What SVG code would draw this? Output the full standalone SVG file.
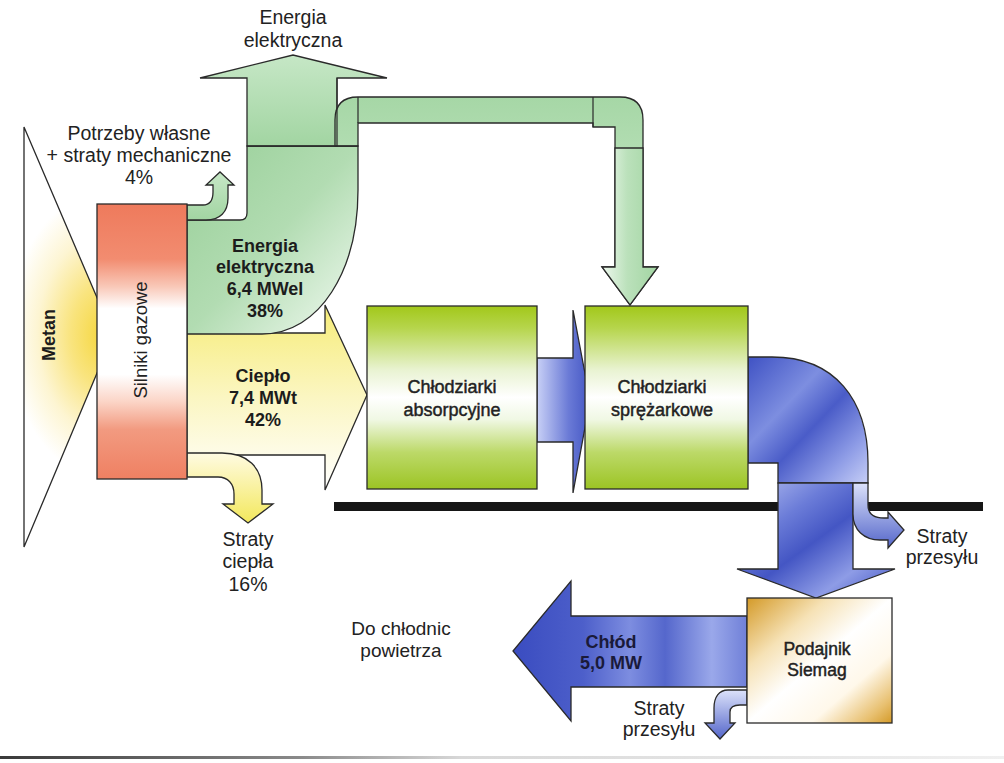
<svg xmlns="http://www.w3.org/2000/svg" width="1004" height="763" viewBox="0 0 1004 763">
<style>
.s{stroke:#2a2a2a;stroke-width:1.3;stroke-linejoin:miter}
.seam{stroke:#2a2a2a;stroke-width:1.2;fill:none}
.t{font-family:"Liberation Sans",Arial,sans-serif;font-size:19.5px;fill:#222;text-anchor:middle}
.b{font-weight:bold;font-size:18px;fill:#1c1c1c}
.m{stroke:#222;stroke-width:0.45;font-size:18px}
.n{fill:#1a1a3a}
</style>
<defs>
<radialGradient id="gMetan" gradientUnits="userSpaceOnUse" cx="104" cy="335" r="95" fx="104" fy="335" gradientTransform="translate(104,335) scale(1,1.5) translate(-104,-335)">
<stop offset="0" stop-color="#f5d63c"/><stop offset="0.35" stop-color="#f9e47e"/><stop offset="0.7" stop-color="#fdf5d2"/><stop offset="1" stop-color="#ffffff"/>
</radialGradient>
<linearGradient id="gSil" x1="0" y1="0" x2="0" y2="1">
<stop offset="0" stop-color="#ee7a5c"/><stop offset="0.2" stop-color="#f28c70"/><stop offset="0.3" stop-color="#f9c8b8"/><stop offset="0.38" stop-color="#ffffff"/><stop offset="0.62" stop-color="#ffffff"/><stop offset="0.72" stop-color="#fbd4c6"/><stop offset="0.82" stop-color="#f29a80"/><stop offset="1" stop-color="#ef8062"/>
</linearGradient>
<linearGradient id="gYel" x1="0" y1="0" x2="0" y2="1">
<stop offset="0" stop-color="#f6ec78"/><stop offset="0.5" stop-color="#fbf6c2"/><stop offset="1" stop-color="#ffffff"/>
</linearGradient>
<linearGradient id="gYelS" x1="0" y1="0" x2="0" y2="1">
<stop offset="0" stop-color="#fffbe2"/><stop offset="1" stop-color="#f3e85c"/>
</linearGradient>
<linearGradient id="gGreen" x1="0" y1="0" x2="1" y2="1">
<stop offset="0" stop-color="#98cf98"/><stop offset="0.5" stop-color="#b2dcb2"/><stop offset="1" stop-color="#f2faf2"/>
</linearGradient>
<linearGradient id="gGreenUp" x1="0" y1="0" x2="0" y2="1">
<stop offset="0" stop-color="#c6e7c6"/><stop offset="1" stop-color="#a2d5a2"/>
</linearGradient>
<linearGradient id="gPipeH" x1="0" y1="0" x2="0" y2="1">
<stop offset="0" stop-color="#a6d7a6"/><stop offset="0.6" stop-color="#c2e5c2"/><stop offset="1" stop-color="#eef8ee"/>
</linearGradient>
<linearGradient id="gPipeV" x1="0" y1="0" x2="1" y2="0">
<stop offset="0" stop-color="#eef8ee"/><stop offset="0.45" stop-color="#bbe1bb"/><stop offset="1" stop-color="#a2d5a2"/>
</linearGradient>
<linearGradient id="gBox" x1="0" y1="0" x2="0" y2="1">
<stop offset="0" stop-color="#a2c81a"/><stop offset="0.12" stop-color="#b6d54c"/><stop offset="0.35" stop-color="#e9f3d2"/><stop offset="0.5" stop-color="#ffffff"/><stop offset="0.62" stop-color="#f0f8e4"/><stop offset="0.8" stop-color="#bcd968"/><stop offset="1" stop-color="#9cc424"/>
</linearGradient>
<linearGradient id="gBlueA" x1="0" y1="0" x2="1" y2="0">
<stop offset="0" stop-color="#c8d0f6"/><stop offset="0.6" stop-color="#6a7ad6"/><stop offset="1" stop-color="#4456c4"/>
</linearGradient>
<linearGradient id="gBlueE" x1="0" y1="0" x2="1" y2="1">
<stop offset="0" stop-color="#3f52c4"/><stop offset="0.35" stop-color="#7d8ee0"/><stop offset="0.55" stop-color="#4a5cc8"/><stop offset="0.8" stop-color="#8e9ce6"/><stop offset="1" stop-color="#c6cef6"/>
</linearGradient>
<linearGradient id="gBlueD" x1="0" y1="0" x2="1" y2="1">
<stop offset="0" stop-color="#b8c2f2"/><stop offset="0.3" stop-color="#6b7cd8"/><stop offset="0.5" stop-color="#4456c4"/><stop offset="0.75" stop-color="#8e9ce6"/><stop offset="1" stop-color="#3e50c2"/>
</linearGradient>
<linearGradient id="gChlod" x1="0" y1="0" x2="1" y2="0">
<stop offset="0" stop-color="#3a4cc0"/><stop offset="0.3" stop-color="#4d5fca"/><stop offset="0.5" stop-color="#7d8de0"/><stop offset="0.65" stop-color="#5567cc"/><stop offset="0.85" stop-color="#9aa8ea"/><stop offset="1" stop-color="#7080d8"/>
</linearGradient>
<linearGradient id="gBlueS" x1="0" y1="0" x2="0" y2="1">
<stop offset="0" stop-color="#dce2fa"/><stop offset="1" stop-color="#5466ca"/>
</linearGradient>
<linearGradient id="gPod" x1="0" y1="0" x2="1" y2="1">
<stop offset="0" stop-color="#d49a28"/><stop offset="0.28" stop-color="#f6e2b6"/><stop offset="0.5" stop-color="#ffffff"/><stop offset="0.72" stop-color="#fff8ea"/><stop offset="0.9" stop-color="#e8c070"/><stop offset="1" stop-color="#d49a28"/>
</linearGradient>
<linearGradient id="gGray" x1="0" y1="0" x2="1" y2="0">
<stop offset="0" stop-color="#3a3a3a"/><stop offset="0.3" stop-color="#8a8a8a"/><stop offset="0.46" stop-color="#d8d8d8"/><stop offset="1" stop-color="#f0f0f0"/>
</linearGradient>
</defs>

<rect x="0" y="756" width="1004" height="3" fill="url(#gGray)"/>
<rect x="334" y="502" width="649" height="9" fill="#161616"/>

<g id="metan">
<polygon class="s" points="24,127 113,335 24,547" fill="url(#gMetan)"/>
<text class="t b" transform="translate(55,335) rotate(-90)">Metan</text>
</g>

<g id="connectors">
<polygon class="s" fill="url(#gYel)" points="187,333 325,333 325,305 367,395 325,490 325,455 187,455"/>
<path class="s" fill="url(#gYelS)" d="M187,453 L222,453 C248,453 262,468 262,490 L262,504 L273,504 L248,523 L223,504 L234,504 L234,494 C234,484 228,477 218,477 L187,477 Z"/>
<path class="s" fill="url(#gGreen)" d="M187,220 L240,220 Q247,220 247,213 L247,146 L358,146 L358,190 C358,270 320,334 262,334 L187,334 Z"/>
<polygon class="s" fill="url(#gGreenUp)" points="247,146 247,78 200,78 293,55 387,78 337,78 337,146"/>
<path class="s" fill="url(#gPipeH)" d="M335,146 L335,120 Q335,97 358,97 L620,97 Q643,97 643,120 L643,267 L658,267 L630,305 L602,267 L615,267 L615,127 L593,127 L593,123 L358,123 L358,146 Z"/>
<path class="s" fill="url(#gPipeV)" d="M615,148 L643,148 L643,267 L658,267 L630,305 L602,267 L615,267 Z"/>
<path class="seam" d="M247,146 L358,146 M358,97 L358,123 M593,97 L593,127 M337,78 L337,146"/>
<path class="s" fill="url(#gGreenUp)" d="M187,205 L203,205 C210,205 213,200 213,192 L213,185 L206,185 L220,172 L234,185 L228,185 L228,198 C228,212 220,220 206,220 L187,220 Z"/>
<polygon class="s" fill="url(#gBlueA)" points="537,358 573,358 573,310 590,400 573,493 573,442 537,442"/>
<path class="s" fill="url(#gBlueE)" d="M748,357 L772,357 C835,357 868,400 868,463 L868,483 L778,483 L778,463 L748,463 Z"/>
<polygon class="s" fill="url(#gBlueD)" points="778,483 853,483 853,569 895,569 816,598 737,569 778,569"/>
<path class="s" fill="url(#gBlueS)" d="M853,483 L868,483 L868,505 C868,514 874,518 884,518 L888,518 L888,512 L904,530 L888,548 L888,540 L880,540 C864,540 853,530 853,514 Z"/>
<polygon class="s" fill="url(#gChlod)" points="747,616 571,616 571,581 513,651 571,721 571,687 747,687"/>
<path class="s" fill="url(#gBlueS)" d="M747,690 L728,690 C719,690 714,697 714,708 L714,723 L705,723 L720,739 L735,723 L730,723 L730,712 C730,707 734,705 740,705 L747,705 Z"/>
<text class="t b"><tspan x="265" y="252">Energia</tspan><tspan x="265" y="273">elektryczna</tspan><tspan x="265" y="295">6,4 MWel</tspan><tspan x="265" y="317">38%</tspan></text>
<text class="t b"><tspan x="263" y="382">Ciepło</tspan><tspan x="263" y="404">7,4 MWt</tspan><tspan x="263" y="426">42%</tspan></text>
<text class="t b n"><tspan x="611" y="648">Chłód</tspan><tspan x="611" y="669">5,0 MW</tspan></text>
</g>

<g id="silniki">
<rect class="s" x="97" y="204" width="90" height="275" fill="url(#gSil)"/>
<text class="t" style="font-size:18.5px" transform="translate(147,340) rotate(-90)">Silniki gazowe</text>
</g>

<g id="chlodziarki-absorpcyjne">
<rect class="s" x="367" y="306" width="170" height="183" fill="url(#gBox)"/>
<text class="t m"><tspan x="452" y="393">Chłodziarki</tspan><tspan x="452" y="416">absorpcyjne</tspan></text>
</g>

<g id="chlodziarki-sprezarkowe">
<rect class="s" x="585" y="306" width="163" height="183" fill="url(#gBox)"/>
<text class="t m"><tspan x="662" y="393">Chłodziarki</tspan><tspan x="662" y="416">sprężarkowe</tspan></text>
</g>

<g id="podajnik">
<rect class="s" x="747" y="598" width="145" height="125" fill="url(#gPod)"/>
<text class="t m" style="font-size:17.5px"><tspan x="817" y="655">Podajnik</tspan><tspan x="817" y="676">Siemag</tspan></text>
</g>

<g id="labels">
<text class="t"><tspan x="293" y="24">Energia</tspan><tspan x="293" y="47">elektryczna</tspan></text>
<text class="t"><tspan x="139" y="140">Potrzeby własne</tspan><tspan x="139" y="162">+ straty mechaniczne</tspan><tspan x="139" y="184">4%</tspan></text>
<text class="t"><tspan x="248" y="546">Straty</tspan><tspan x="248" y="568">ciepła</tspan><tspan x="248" y="591">16%</tspan></text>
<text class="t"><tspan x="942" y="543">Straty</tspan><tspan x="942" y="564">przesyłu</tspan></text>
<text class="t" style="font-size:19px"><tspan x="401" y="635">Do chłodnic</tspan><tspan x="401" y="657">powietrza</tspan></text>
<text class="t"><tspan x="659" y="715">Straty</tspan><tspan x="659" y="736">przesyłu</tspan></text>
</g>
</svg>
